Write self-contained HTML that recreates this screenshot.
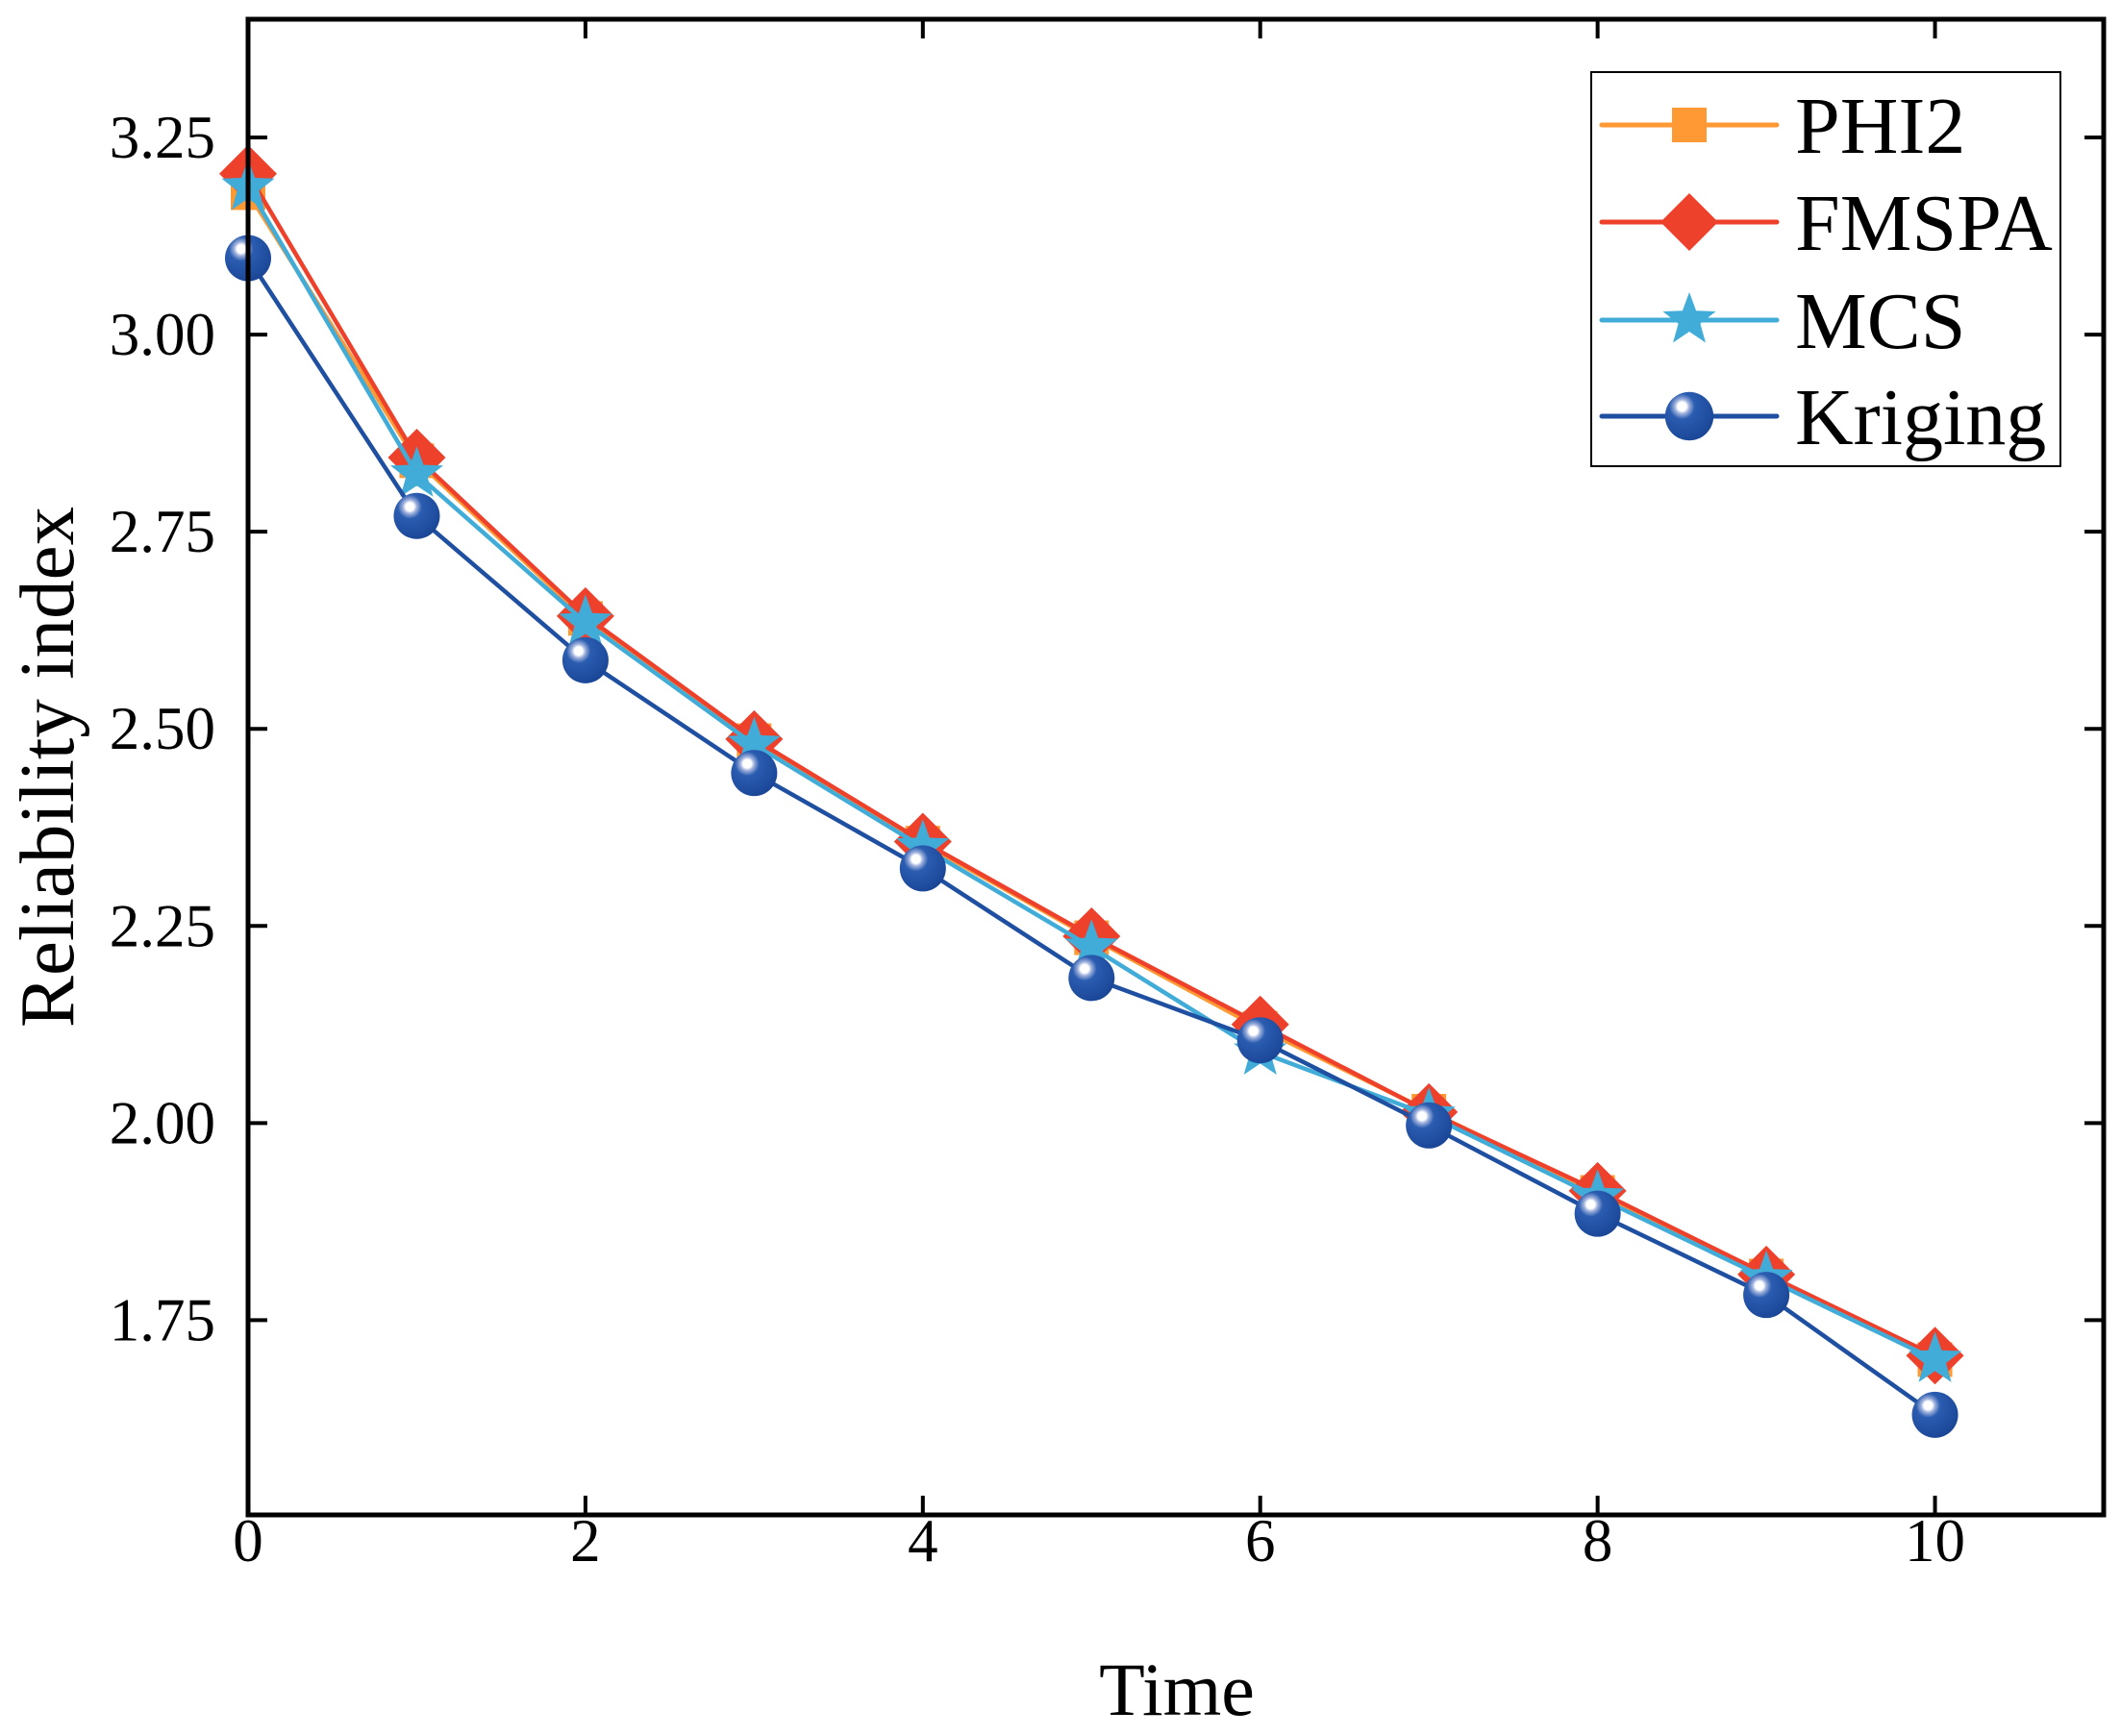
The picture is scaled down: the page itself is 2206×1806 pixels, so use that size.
<!DOCTYPE html>
<html><head><meta charset="utf-8"><style>
html,body{margin:0;padding:0;background:#fff}
svg{display:block}
text{font-family:"Liberation Serif",serif;fill:#000}
</style></head><body>
<svg id="chart" width="2206" height="1806" viewBox="0 0 2206 1806" xmlns="http://www.w3.org/2000/svg">
<defs>
<radialGradient id="ballGrad" cx="0.35" cy="0.3" r="0.75">
<stop offset="0" stop-color="#ffffff"/><stop offset="0.12" stop-color="#ffffff"/><stop offset="0.2" stop-color="#9fb1dc"/><stop offset="0.35" stop-color="#2a5cb0"/><stop offset="1" stop-color="#1a4596"/>
</radialGradient>
</defs>
<g id="plot"></g>
<g id="legend"></g>
</svg>
<script>
const xTicks = [0,2,4,6,8,10];
const yTicks = [1.75,2.00,2.25,2.50,2.75,3.00,3.25];
const yTickLabels = ["1.75","2.00","2.25","2.50","2.75","3.00","3.25"];
const times = [0,1,2,3,4,5,6,7,8,9,10];
const phi2 = [3.18,2.84,2.64,2.485,2.355,2.235,2.12,2.015,1.912,1.806,1.70];
const fmspa = [3.204,2.844,2.643,2.487,2.357,2.237,2.125,2.014,1.914,1.808,1.705];
const mcs = [3.187,2.823,2.635,2.48,2.35,2.223,2.09,2.01,1.906,1.803,1.70];
const kriging = [3.097,2.77,2.587,2.444,2.323,2.184,2.105,1.997,1.885,1.782,1.63];
const seriesNames = ["PHI2","FMSPA","MCS","Kriging"];

const L=258,R=2188,T=20,B=1576;
const xMin=0,xMax=11,yMin=1.503,yMax=3.40;
const NS="http://www.w3.org/2000/svg";
function X(v){return L+(v-xMin)/(xMax-xMin)*(R-L);}
function Y(v){return B-(v-yMin)/(yMax-yMin)*(B-T);}
const plot=document.getElementById('plot');
const legend=document.getElementById('legend');
function mk(tag,attrs,parent){const e=document.createElementNS(NS,tag);for(const k in attrs)e.setAttribute(k,attrs[k]);parent.appendChild(e);return e;}

const colors={PHI2:"#FF9933",FMSPA:"#EE412B",MCS:"#41ACD8",Kriging:"#1F4FA0"};
function marker(name,cx,cy,parent,scale){
  const s=scale||1;let e;
  if(name==="PHI2"){const h=18*s;e=mk('rect',{x:cx-h,y:cy-h,width:2*h,height:2*h,fill:colors.PHI2},parent);}
  else if(name==="FMSPA"){const d=30*s;e=mk('polygon',{points:`${cx},${cy-d} ${cx+d},${cy} ${cx},${cy+d} ${cx-d},${cy}`,fill:colors.FMSPA},parent);}
  else if(name==="MCS"){const ro=29*s,ri=12*s;let p=[];for(let i=0;i<10;i++){const r=i%2?ri:ro;const a=-Math.PI/2+i*Math.PI/5;p.push((cx+r*Math.cos(a)).toFixed(1)+','+(cy+r*Math.sin(a)).toFixed(1));}e=mk('polygon',{points:p.join(' '),fill:colors.MCS},parent);}
  else {e=mk('circle',{cx:cx,cy:cy,r:24*s,fill:'url(#ballGrad)'},parent);}
  return e;
}

const data={PHI2:phi2,FMSPA:fmspa,MCS:mcs,Kriging:kriging};
seriesNames.forEach(name=>{
  const vals=data[name];
  const g=mk('g',{},plot);
  
  
  const pts=times.map((t,i)=>X(t).toFixed(1)+','+Y(vals[i]).toFixed(1)).join(' ');
  const pl=mk('polyline',{points:pts,fill:'none',stroke:colors[name],'stroke-width':4.5,'stroke-linejoin':'round'},g);
  
  
  times.forEach((t,i)=>{
    const m=marker(name,X(t),Y(vals[i]),g);
    
    
  });
});

const fr=mk('rect',{x:L,y:T,width:R-L,height:B-T,fill:'none',stroke:'#000','stroke-width':5},plot);



xTicks.forEach(v=>{
  const x=X(v);
  mk('line',{x1:x,y1:B,x2:x,y2:B-20,stroke:'#000','stroke-width':4},plot);
  mk('line',{x1:x,y1:T,x2:x,y2:T+20,stroke:'#000','stroke-width':4},plot);
  const t=mk('text',{x:x,y:1624,'font-size':63,'text-anchor':'middle'},plot);
  t.textContent=String(v);
  
  
});
yTicks.forEach((v,i)=>{
  const y=Y(v);
  mk('line',{x1:L,y1:y,x2:L+20,y2:y,stroke:'#000','stroke-width':4},plot);
  mk('line',{x1:R,y1:y,x2:R-20,y2:y,stroke:'#000','stroke-width':4},plot);
  const t=mk('text',{x:224,y:y+21,'font-size':63,'text-anchor':'end'},plot);
  t.textContent=yTickLabels[i];
  
  
});
const xt=mk('text',{x:1224,y:1784,'font-size':78,'text-anchor':'middle'},plot);
xt.textContent='Time';


const yt=mk('text',{x:0,y:0,'font-size':81,'text-anchor':'middle',transform:'translate(76,798) rotate(-90)'},plot);
yt.textContent='Reliability index';



const lb=mk('rect',{x:1655,y:75,width:488,height:410,fill:'#fff',stroke:'#000','stroke-width':2},legend);


const ly=[130,231,333,433];
seriesNames.forEach((name,i)=>{
  const g=mk('g',{},legend);
  
  
  mk('line',{x1:1666,y1:ly[i],x2:1848,y2:ly[i],stroke:colors[name],'stroke-width':5,'stroke-linecap':'round'},g);
  marker(name,1757,ly[i],g,name==="Kriging"?1.05:1.0);
  const t=mk('text',{x:1867,y:ly[i]+29,'font-size':84},g);
  t.textContent=name;
});
</script>
</body></html>
